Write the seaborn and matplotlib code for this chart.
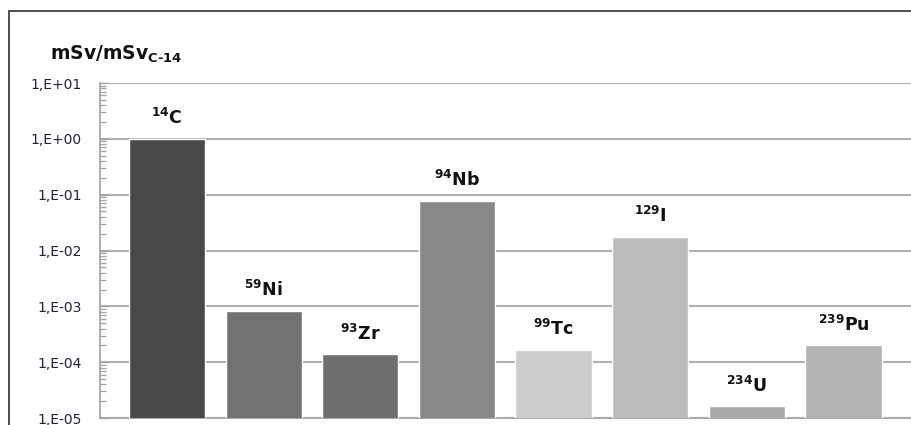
import math
import matplotlib
matplotlib.use("Agg")
import matplotlib.pyplot as plt
import matplotlib.ticker as mticker
from matplotlib.patches import Rectangle
import seaborn as sns

# Relative dose contribution of each nuclide, normalised to C-14
nuclides = ["C-14", "Ni-59", "Zr-93", "Nb-94", "Tc-99", "I-129", "U-234", "Pu-239"]
mass_numbers = ["14", "59", "93", "94", "99", "129", "234", "239"]
symbols = ["C", "Ni", "Zr", "Nb", "Tc", "I", "U", "Pu"]
dose_ratio = [1.0, 8.3e-4, 1.38e-4, 7.85e-2, 1.66e-4, 1.78e-2, 1.64e-5, 2.03e-4]
bar_colors = ["#494949", "#727272", "#6f6f6f", "#888888",
              "#cccccc", "#bcbcbc", "#a9a9a9", "#b3b3b3"]

sns.set_theme(style="white")
plt.rcParams["font.family"] = ["DejaVu Sans"]
plt.rcParams["mathtext.fontset"] = "custom"
plt.rcParams["mathtext.rm"] = "DejaVu Sans:bold"
plt.rcParams["mathtext.it"] = "DejaVu Sans:bold"
plt.rcParams["mathtext.bf"] = "DejaVu Sans:bold"

W, H = 912, 425
fig = plt.figure(figsize=(W / 100, H / 100), dpi=100)
ax = fig.add_axes([100 / W, 7 / H, (W - 100) / W, (418 - 83) / H])

ax.set_yscale("log")
sns.barplot(x=nuclides, y=dose_ratio, hue=nuclides, palette=bar_colors,
            legend=False, width=0.79, saturation=1, ax=ax, zorder=3)

ax.set_ylim(1e-5, 10)
ax.set_xlim(-0.694, 7.71)

# Axis styling
grid_color = "#b0b0b0"
ax.yaxis.set_major_locator(mticker.LogLocator(base=10, numticks=20))
ax.yaxis.set_minor_locator(mticker.LogLocator(base=10, subs=range(2, 10), numticks=20))
ax.yaxis.set_minor_formatter(mticker.NullFormatter())
ax.yaxis.set_major_formatter(
    mticker.FuncFormatter(lambda v, _: "1,E{:+03d}".format(int(round(math.log10(v))))))
ax.grid(axis="y", which="major", color=grid_color, linewidth=1.5, zorder=0)
ax.set_axisbelow(True)
ax.tick_params(axis="y", which="major", left=True, direction="in", length=6,
               width=1, color="#a0a0a0", pad=13, labelsize=10,
               labelcolor="#202040")
ax.tick_params(axis="y", which="minor", left=True, direction="in", length=4,
               width=0.9, color="#a0a0a0")
ax.tick_params(axis="x", length=0, labelbottom=False)
ax.set_xlabel("")
ax.set_ylabel("")
for side in ("top", "right"):
    ax.spines[side].set_visible(False)
ax.spines["left"].set_color("#a0a0a0")
ax.spines["left"].set_linewidth(1.2)
ax.spines["bottom"].set_color("#a8a8a8")
ax.spines["bottom"].set_linewidth(1.4)

# Nuclide labels above each bar
for i, (mn, sym, v) in enumerate(zip(mass_numbers, symbols, dose_ratio)):
    ax.annotate("$^{%s}$%s" % (mn, sym), xy=(i, v), xytext=(0, 7.5),
                textcoords="offset points", ha="center", va="bottom",
                fontsize=12.5, fontweight="bold", color="#111111", zorder=5,
                bbox=dict(facecolor="white", edgecolor="none", pad=1.5))

# Unit label
fig.text(50 / W, 1 - 60 / H, r"mSv/mSv$_{C\text{-}14}$", fontsize=13.5,
         fontweight="bold", color="#111111", ha="left", va="baseline")

# Outer chart frame
fig.add_artist(Rectangle((9 / W, -0.2), 2, 1 - 11 / H + 0.2,
                         transform=fig.transFigure, fill=False,
                         edgecolor="#303030", linewidth=1.2, clip_on=False))

fig.savefig("out.png", dpi=100)
